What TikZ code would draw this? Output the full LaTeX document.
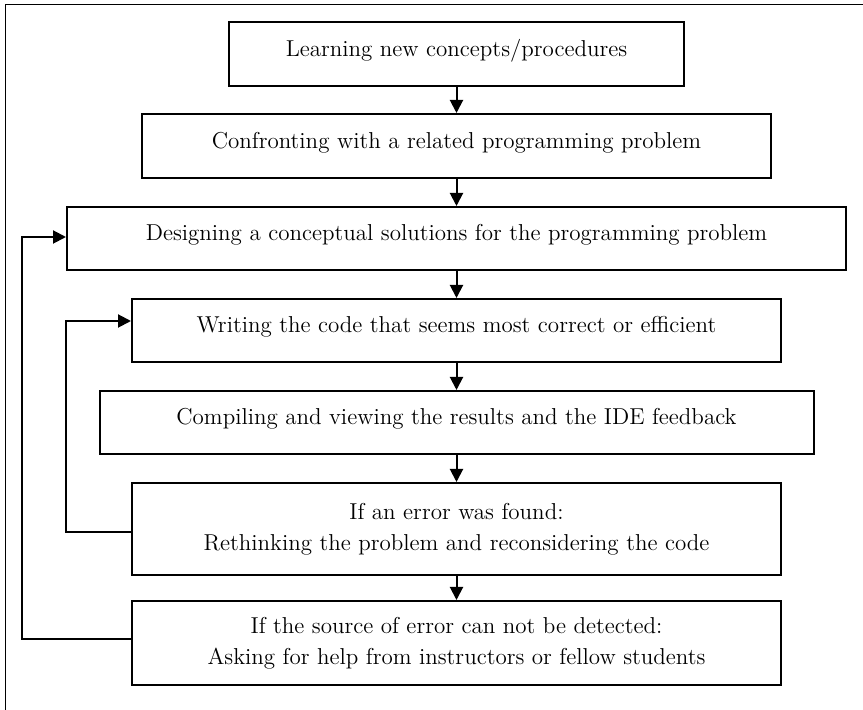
\documentclass[tikz,border=0pt]{standalone}
\usepackage{tikz}
\usetikzlibrary{arrows.meta,positioning,calc}
\newcommand{\lowpad}{\rule[-6pt]{0pt}{6pt}}
\tikzset{
  stepbox/.style={draw,line width=1pt,rectangle,inner sep=0pt,align=center,
    font=\fontsize{11.5}{15.5}\selectfont},
  flow/.style={line width=1pt,-{Triangle[length=6.5pt,width=6.5pt]}},
}
\begin{document}
\begin{tikzpicture}[x=0.5pt,y=-0.5pt]
  \useasboundingbox (0,0) rectangle (863,710);
  \draw[line width=0.5pt] (5,5) rectangle (880,730);
  \node[stepbox,minimum width=227.5pt,minimum height=32pt] (b1) at (456.5,54)
    {Learning new concepts/procedures\lowpad};
  \node[stepbox,minimum width=314.5pt,minimum height=32pt] (b2) at (456.5,146)
    {Confronting with a related programming problem\lowpad};
  \node[stepbox,minimum width=389.5pt,minimum height=31.5pt] (b3) at (456.5,238.5)
    {Designing a conceptual solutions for the programming problem\lowpad};
  \node[stepbox,minimum width=324.5pt,minimum height=31.5pt] (b4) at (456.5,330.5)
    {Writing the code that seems most correct or efficient\lowpad};
  \node[stepbox,minimum width=357pt,minimum height=31.5pt] (b5) at (456.5,422.5)
    {Compiling and viewing the results and the IDE feedback\lowpad};
  \node[stepbox,minimum width=324.5pt,minimum height=46pt] (b6) at (456.5,529)
    {If an error was found:\\ Rethinking the problem and reconsidering the code};
  \node[stepbox,minimum width=324.5pt,minimum height=42pt] (b7) at (456.5,643)
    {If the source of error can not be detected:\\ Asking for help from instructors or fellow students};
  \foreach \a/\b in {b1/b2,b2/b3,b3/b4,b4/b5,b5/b6,b6/b7}
    \draw[flow] (\a.south) -- (\b.north);
  % feedback loops
  \draw[flow] ([yshift=-1.5pt]b6.west) -- ++(-65,0) |- ([yshift=4.75pt]b4.west);
  \draw[flow] ([yshift=2pt]b7.west) -- ++(-109,0) |- ([yshift=0.75pt]b3.west);
\end{tikzpicture}
\end{document}
